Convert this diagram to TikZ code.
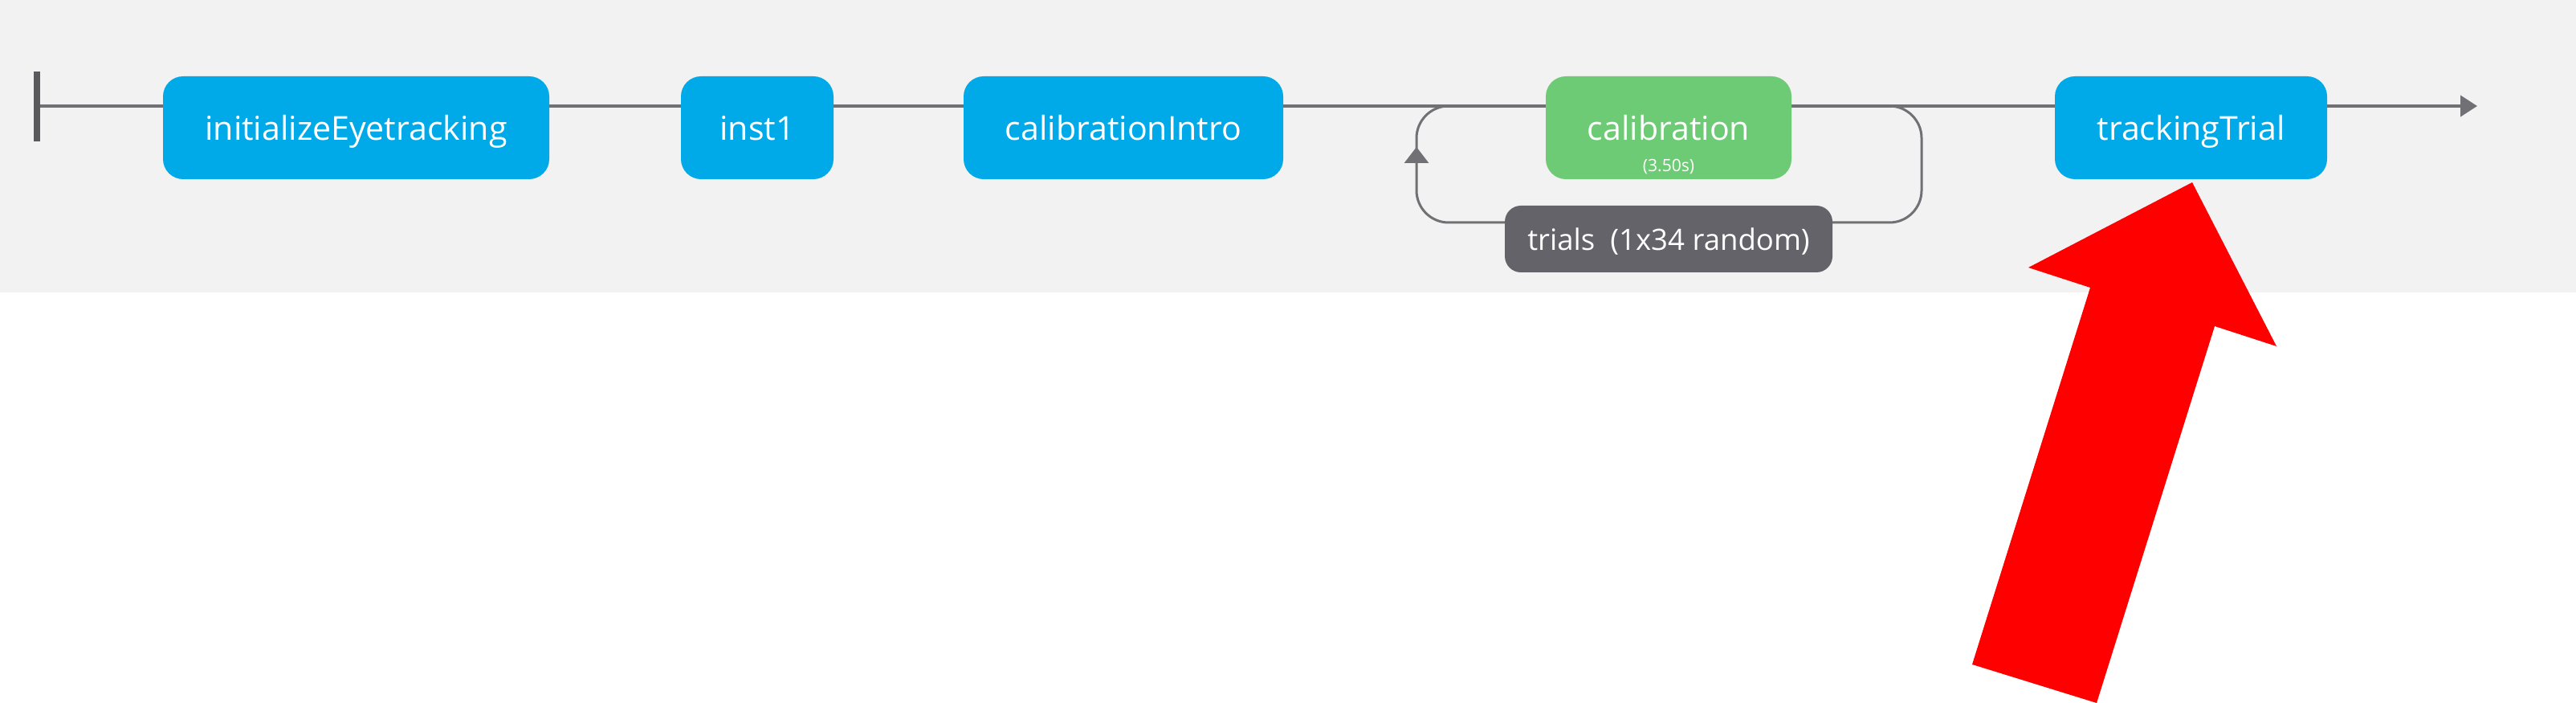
\documentclass[tikz,border=0pt]{standalone}
\usepackage{fontspec}
\setmainfont{Open Sans}
\usetikzlibrary{arrows.meta,positioning}
\definecolor{flowblue}{RGB}{0,169,232}
\definecolor{flowgreen}{RGB}{108,203,116}
\definecolor{flowdark}{RGB}{99,99,105}
\definecolor{flowline}{RGB}{112,112,117}
\definecolor{panelgray}{RGB}{242,242,242}
\tikzset{
  routine/.style={fill=flowblue, text=white, rounded corners=0.25cm, minimum height=1.28cm,
    inner sep=0pt, text height=0.42cm, text depth=0.1cm, font=\fontsize{11.7}{14}\selectfont},
  loopbox/.style={fill=flowdark, text=white, rounded corners=0.2cm, minimum height=0.83cm,
    inner sep=0pt, text height=0.4cm, text depth=0.11cm, font=\fontsize{10.4}{12}\selectfont},
  duration/.style={text=white, inner sep=0pt, font=\fontsize{6}{7}\selectfont},
  mainline/.style={draw=flowline, line width=0.04cm},
  loopline/.style={draw=flowline, line width=0.03cm, rounded corners=0.4cm}
}
\begin{document}
\begin{tikzpicture}
\useasboundingbox (0,0) rectangle (32.08,8.75);
\fill[white] (0,0) rectangle (32.08,8.75);
\fill[panelgray] (0,5.11) rectangle (32.08,8.75);
\coordinate (start) at (0.46,7.43);
\coordinate (finish) at (30.85,7.43);
\coordinate (loopout) at (23.0,7.43);
\coordinate (loopback) at (18.6,7.43);
\draw[loopline, -{Triangle[width=3mm,length=2mm]}] (loopout) -| (23.93,5.98) -| (17.64,6.92);
\draw[loopline] (17.64,6.85) |- (loopback);
\draw[mainline, -{Triangle[width=2.6mm,length=2.1mm]}] (start) -- (finish);
\draw[flowline!80!black, line width=0.08cm] (0.46,7.86) -- (0.46,6.99);
\node[routine, minimum width=4.81cm] (initEye) at (4.435,7.16) {initializeEyetracking};
\node[routine, minimum width=1.90cm] (inst) at (9.43,7.16) {inst1};
\node[routine, minimum width=3.98cm] (calibIntro) at (13.99,7.16) {calibrationIntro};
\node[routine, fill=flowgreen, minimum width=3.06cm] (calib) at (20.78,7.16) {calibration};
\node[duration, above=0.16cm of calib.south, anchor=center] (calibDur) {(3.50s)};
\node[routine, minimum width=3.39cm] (tracking) at (27.285,7.16) {trackingTrial};
\node[loopbox, minimum width=4.08cm] (trials) at (20.78,5.775) {trials\ \ (1x34 random)};
\fill[red] (27.30,6.48) -- (28.35,4.44) -- (27.58,4.69) -- (26.11,0) -- (24.56,0.48)
  -- (26.03,5.17) -- (25.26,5.42) -- cycle;
\end{tikzpicture}
\end{document}
